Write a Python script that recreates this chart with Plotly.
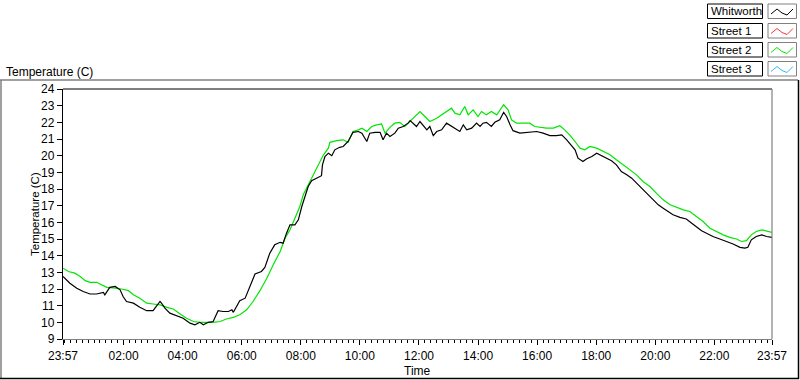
import datetime as dt
import plotly.graph_objects as go

# ---- data (minutes after 23:57 start, temperature in C) ----
series_names = ["Whitworth", "Street 1", "Street 2", "Street 3"]
series_colors = ["#000000", "#FF3030", "#00E600", "#30B8FF"]

whitworth_min = [0,14,28,41,55,68,82,85,95,106,116,122,129,143,156,170,183,190,197,200,
    207,217,231,244,258,268,278,285,295,305,315,325,336,343,346,359,370,380,390,403,
    410,420,430,441,447,454,461,471,478,485,491,498,505,515,525,527,532,539,546,552,
    562,569,579,589,600,607,617,623,634,644,650,657,664,674,681,691,701,705,711,718,
    725,732,739,745,752,759,769,779,789,799,806,813,820,830,840,847,853,860,870,877,
    887,895,901,908,914,928,942,952,962,975,989,1002,1013,1023,1029,1040,1046,1056,1063,1074,
    1084,1094,1104,1114,1124,1134,1145,1155,1165,1178,1188,1199,1209,1219,1229,1239,1253,1266,1277,1287,
    1297,1307,1320,1334,1348,1361,1375,1385,1391,1398,1408,1419,1429,1440]
whitworth_temp = [12.75,12.35,12.05,11.85,11.7,11.7,11.8,11.65,12.1,12.15,
    11.95,11.55,11.25,11.15,10.9,10.7,10.7,10.95,11.25,11.15,
    10.85,10.55,10.4,10.25,9.95,9.85,10.0,9.85,10.0,10.05,
    10.7,10.65,10.65,10.75,10.6,11.3,11.45,12.2,12.9,13.05,
    13.3,14.15,14.65,14.8,14.75,15.35,15.85,15.85,16.15,16.95,
    17.55,18.15,18.5,18.65,18.8,19.45,19.95,20.15,20.0,20.35,
    20.5,20.55,20.85,21.4,21.45,21.35,20.85,21.35,21.4,21.4,
    20.95,21.35,21.15,21.35,21.65,21.75,21.95,22.1,21.95,21.75,
    22.05,21.8,21.55,21.75,21.2,21.45,21.55,21.95,21.75,21.6,
    21.45,21.85,21.55,21.65,21.95,21.75,21.95,22.0,21.75,22.0,
    22.15,22.6,22.35,21.85,21.5,21.35,21.4,21.4,21.45,21.35,
    21.2,21.2,21.25,20.95,20.75,20.35,19.85,19.65,19.8,19.95,
    20.15,20.0,19.8,19.7,19.45,19.05,18.85,18.65,18.35,17.95,
    17.65,17.35,17.05,16.85,16.65,16.45,16.3,16.2,15.95,15.7,
    15.5,15.35,15.15,15.0,14.85,14.7,14.5,14.45,14.5,14.95,
    15.15,15.25,15.15,15.1]

street1_min = []
street1_temp = []

street2_min = [0,11,24,35,45,55,68,79,89,106,119,133,143,156,170,183,197,211,224,238,
    251,265,278,292,305,319,332,346,359,373,386,400,414,427,441,451,461,471,481,488,
    498,508,518,529,539,542,556,569,579,589,600,607,617,627,637,647,654,664,674,684,
    694,705,715,725,735,745,759,769,779,789,796,806,816,823,833,843,850,860,870,881,
    889,895,904,911,921,935,948,958,969,982,996,1009,1019,1029,1040,1050,1060,1070,1084,1097,
    1111,1124,1138,1151,1165,1178,1192,1205,1219,1233,1246,1260,1273,1287,1300,1314,1327,1341,1354,1368,
    1378,1388,1398,1408,1419,1440]
street2_temp = [13.25,13.05,12.95,12.75,12.5,12.4,12.4,12.25,12.1,12.05,
    12.0,11.9,11.65,11.45,11.15,11.1,11.05,10.9,10.8,10.5,
    10.25,10.05,10.0,10.0,10.0,10.05,10.2,10.3,10.45,10.75,
    11.25,11.9,12.65,13.45,14.25,15.05,15.55,16.25,16.95,17.65,
    18.25,18.85,19.45,20.05,20.45,20.8,20.9,20.95,20.8,21.45,
    21.55,21.65,21.45,21.75,21.85,21.9,21.35,21.7,21.95,22.0,
    21.75,22.05,22.35,22.65,22.35,22.05,22.25,22.45,22.65,22.85,
    22.55,22.45,22.95,22.45,22.75,22.35,22.65,22.45,22.65,22.45,
    22.8,23.05,22.75,22.15,21.95,21.95,21.95,21.75,21.7,21.65,
    21.65,21.8,21.55,21.25,20.85,20.45,20.35,20.55,20.45,20.25,
    20.05,19.75,19.45,19.15,18.85,18.45,18.15,17.75,17.35,17.05,
    16.9,16.75,16.65,16.35,16.05,15.65,15.45,15.25,15.1,15.0,
    14.85,14.9,15.25,15.45,15.55,15.4]

street3_min = []
street3_temp = []

x_tick_labels = ["23:57", "02:00", "04:00", "06:00", "08:00", "10:00", "12:00",
                 "14:00", "16:00", "18:00", "20:00", "22:00", "23:57"]
y_ticks = list(range(9, 25))

# ---- build ----
start = dt.datetime(2000, 1, 1, 23, 57)
end = start + dt.timedelta(minutes=1440)

def to_time(mins):
    return [start + dt.timedelta(minutes=m) for m in mins]

tick_vals = [start] + [dt.datetime(2000, 1, 2, int(l[:2]), int(l[3:])) for l in x_tick_labels[1:-1]] + [end]

FONT = "Liberation Sans"
W, H = 800, 380
L, R, T, B = 63, 772, 89, 339  # plot area in pixels

fig = go.Figure()
data = [(whitworth_min, whitworth_temp), (street1_min, street1_temp),
        (street2_min, street2_temp), (street3_min, street3_temp)]
order = [2, 1, 3, 0]
for i in order:
    mins, temps = data[i]
    fig.add_trace(go.Scatter(x=to_time(mins), y=temps, mode="lines", name=series_names[i],
                             line=dict(color=series_colors[i], width=1.2), showlegend=False,
                             hoverinfo="skip"))

def px(xp):
    return (xp - L) / (R - L)

def py(yp):
    return (B - yp) / (B - T)

shapes = []
annotations = []

# outer panel frame
shapes.append(dict(type="line", xref="paper", yref="paper", x0=px(0), x1=px(798), y0=py(80), y1=py(80), line=dict(color="#808080", width=1.5)))
shapes.append(dict(type="line", xref="paper", yref="paper", x0=px(1), x1=px(1), y0=py(80), y1=py(379), line=dict(color="#808080", width=1.5)))
shapes.append(dict(type="line", xref="paper", yref="paper", x0=px(798.5), x1=px(798.5), y0=py(80), y1=py(379), line=dict(color="#000000", width=1.5)))
shapes.append(dict(type="line", xref="paper", yref="paper", x0=px(0), x1=px(799), y0=py(378.5), y1=py(378.5), line=dict(color="#000000", width=1.5)))
# plot area frame: top black, right gray
shapes.append(dict(type="line", xref="paper", yref="paper", x0=0, x1=1, y0=1, y1=1, line=dict(color="#000000", width=1.2)))
shapes.append(dict(type="line", xref="paper", yref="paper", x0=1, x1=1, y0=0, y1=1, line=dict(color="#808080", width=1.2)))

# custom legend (name box + sample box)
box_tops = [4, 23.5, 42.5, 61.5]
box_h = 14.5
for i, name in enumerate(series_names):
    y0, y1 = box_tops[i], box_tops[i] + box_h
    shapes.append(dict(type="rect", xref="paper", yref="paper", x0=px(707.5), x1=px(762.5), y0=py(y1), y1=py(y0),
                       line=dict(color="#000000", width=1), fillcolor="white"))
    shapes.append(dict(type="rect", xref="paper", yref="paper", x0=px(768), x1=px(796.5), y0=py(y1), y1=py(y0),
                       line=dict(color="#808080", width=1), fillcolor="white"))
    zx = [771, 777, 782, 787, 793]
    zy = [y0 + 10, y0 + 5, y0 + 9, y0 + 11, y0 + 5]
    path = "M " + " L ".join(f"{px(a)},{py(b)}" for a, b in zip(zx, zy))
    shapes.append(dict(type="path", xref="paper", yref="paper", path=path,
                       line=dict(color=series_colors[i], width=1)))
    annotations.append(dict(text=name, xref="paper", yref="paper", x=px(709), y=py((y0 + y1) / 2),
                            xanchor="left", yanchor="middle", showarrow=False,
                            font=dict(family=FONT, size=11.5, color="black")))

# titles
annotations.append(dict(text="Temperature (C)", xref="paper", yref="paper", x=px(4), y=py(72),
                        xanchor="left", yanchor="middle", showarrow=False,
                        font=dict(family=FONT, size=12, color="black")))
annotations.append(dict(text="Temperature (C)", xref="paper", yref="paper", x=px(35), y=0.5,
                        xanchor="center", yanchor="middle", showarrow=False, textangle=-90,
                        font=dict(family=FONT, size=11.5, color="black")))
annotations.append(dict(text="Time", xref="paper", yref="paper", x=0.5, y=py(370.5),
                        xanchor="center", yanchor="middle", showarrow=False,
                        font=dict(family=FONT, size=12, color="black")))

fig.update_layout(
    width=W, height=H,
    margin=dict(l=L, r=W - R, t=T, b=H - B, pad=0),
    paper_bgcolor="white", plot_bgcolor="white",
    font=dict(family=FONT, size=12, color="black"),
    shapes=shapes, annotations=annotations,
    showlegend=False, hovermode=False,
)
fig.update_xaxes(
    type="date", range=[start, end], tickvals=tick_vals, ticktext=x_tick_labels,
    showgrid=False, zeroline=False, showline=True, linecolor="#808080", linewidth=1.2,
    ticks="outside", ticklen=5, tickcolor="black", tickwidth=1,
    tickfont=dict(family=FONT, size=12, color="black"),
    minor=dict(ticks="outside", ticklen=3, tickcolor="black", dtick=12 * 60 * 1000,
               tick0="2000-01-02 00:00", showgrid=False),
)
fig.update_yaxes(
    range=[9, 24], tickvals=y_ticks, showgrid=False, zeroline=False,
    showline=True, linecolor="black", linewidth=1.2,
    ticks="outside", ticklen=5, tickcolor="black", tickwidth=1,
    tickfont=dict(family=FONT, size=12, color="black"),
)

fig.write_html("out.html", config={"displayModeBar": False, "staticPlot": True},
               post_script="document.body.style.margin='0px';document.body.style.overflow='hidden';")
